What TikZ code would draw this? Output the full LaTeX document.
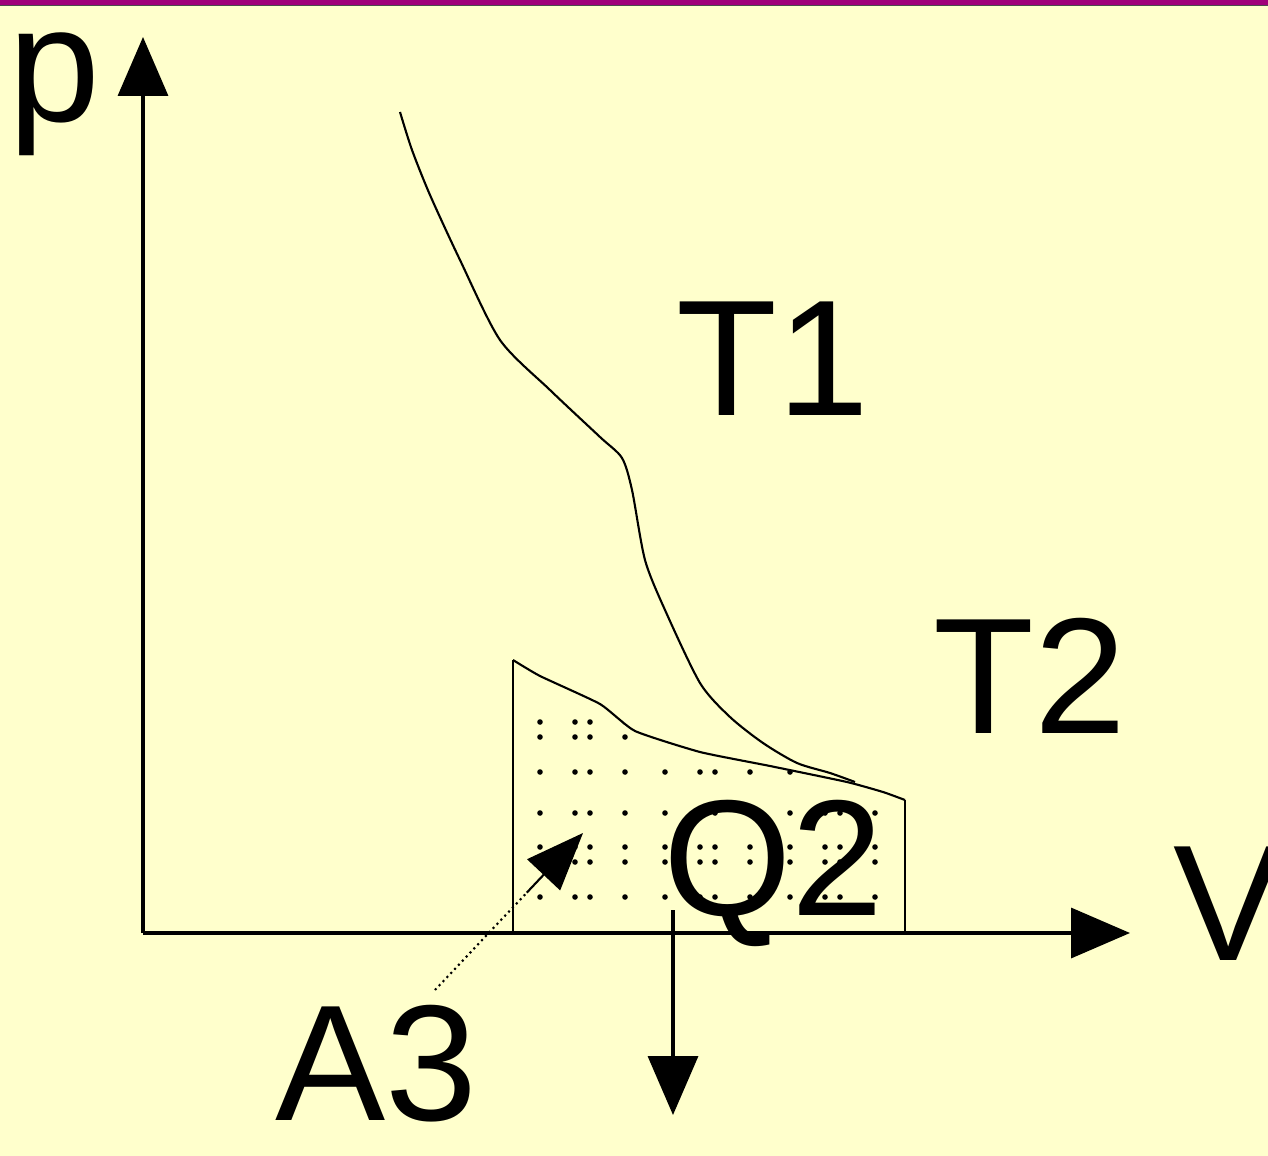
\documentclass[tikz,border=0pt]{standalone}
\usepackage{fontspec}
\setmainfont{Liberation Sans}
\usetikzlibrary{arrows.meta,calc}
\definecolor{bg}{HTML}{FFFFCC}
\definecolor{topbar}{HTML}{A0007A}
\begin{document}
\begin{tikzpicture}[x=0.02cm,y=-0.02cm,
  lbl/.style={font=\fontsize{94}{94}\selectfont, inner sep=0, anchor=base west},
  axisline/.style={line width=2pt, -{Triangle[length=1.18cm,width=1.0cm]}},
  thinline/.style={line width=1.2pt},
  edgeline/.style={line width=1.6pt},
  stip/.style={fill=black}]
\useasboundingbox (0,0) rectangle (1268,1156);
\fill[bg] (0,0) rectangle (1268,1156);
\fill[topbar] (0,0) rectangle (1268,5);
\draw[line width=1pt, black!70] (0,5.5) -- (1268,5.5);

% coordinates
\coordinate (O) at (143,933);
\coordinate (ytip) at (143,37);
\coordinate (xtip) at (1130,933);
\coordinate (qtop) at (673,910);
\coordinate (qtip) at (673,1115);
\coordinate (astart) at (435,990);
\coordinate (atip) at (583,833);

% stippled region
\begin{scope}
\clip (513,933) -- (513,660) -- plot[smooth,tension=0.3] coordinates {(513,660) (540,676) (600,704) (635,731) (700,752) (770,766) (847,782) (883,792) (905,800)} -- (905,933) -- cycle;
\foreach \k in {0,1,2,3}{
  \foreach \dx in {0,35,50,85}{
    \foreach \j in {0,1}{
      \foreach \dy in {0,15,50,91}{
        \fill[stip] ({540+125*\k+\dx},{722+125*\j+\dy}) circle (2.8);
      }
    }
  }
}
\end{scope}

% region edges
\draw[edgeline] (513,933) -- (513,660);
\draw[thinline] plot[smooth,tension=0.3] coordinates {(513,660) (540,676) (600,704) (635,731) (700,752) (770,766) (847,782) (883,792) (905,800)};
\draw[thinline] (905,800) -- (905,933);

% T1 curve
\draw[thinline] plot[smooth,tension=0.45] coordinates {(400,112) (412,150) (430,195) (460,260) (500,340) (550,390) (600,437) (622,458) (632,490) (645,560) (665,610) (700,683) (730,717) (763,743) (797,763) (830,773) (855,782)};

% axes
\draw[axisline] (O) -- (ytip);
\draw[axisline] (O) -- (xtip);

% Q2 arrow
\draw[axisline] (qtop) -- (qtip);

% A3 arrow
\coordinate (amid) at ($(astart)!0.62!(atip)$);
\draw[line width=1.2pt, dotted] (astart) -- (amid);
\draw[line width=1.2pt, -{Triangle[length=1.15cm,width=0.9cm]}] (amid) -- (atip);

% labels
\node[lbl] (p) at (8,121) {p};
\node[lbl] (T1) at (676,415) {T1};
\node[lbl] (T2) at (933,733) {T2};
\node[lbl] (Q2) at (663,915) {Q2};
\node[lbl] (V) at (1173,960) {V};
\node[lbl] (A3) at (275,1120) {A3};
\end{tikzpicture}
\end{document}
